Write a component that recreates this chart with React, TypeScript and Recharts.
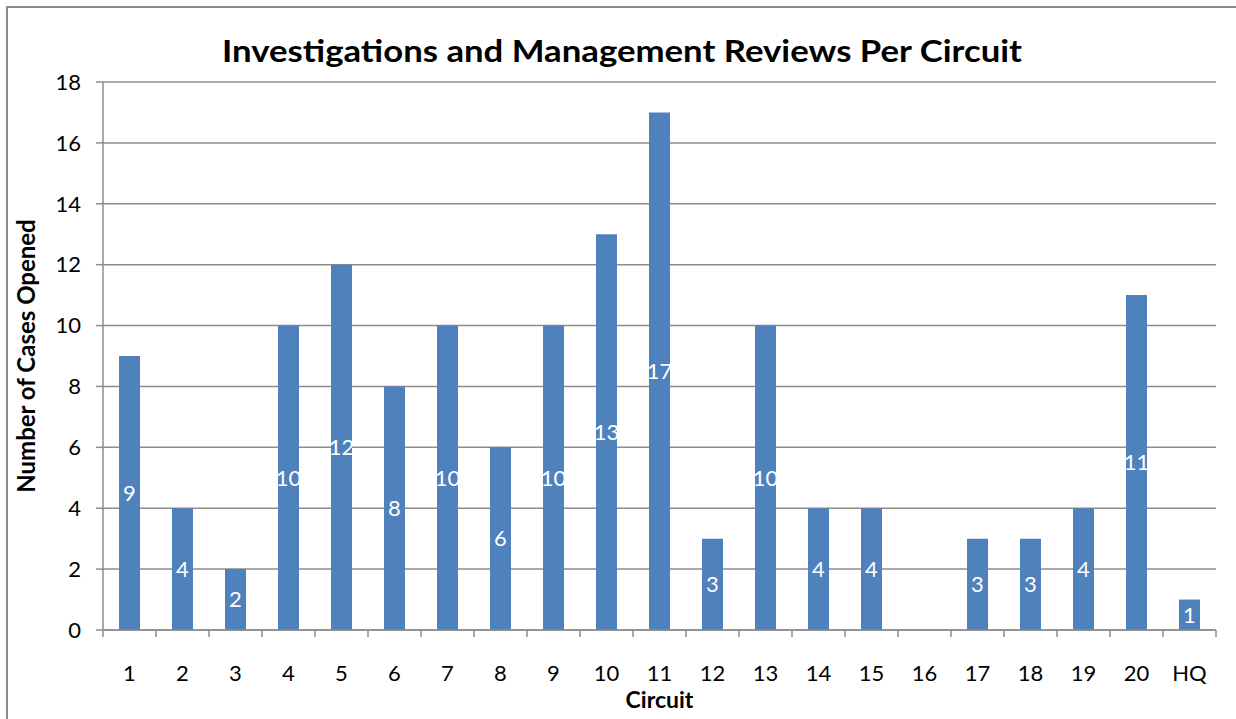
import React from "react";
import { BarChart, Bar, XAxis, YAxis, CartesianGrid, LabelList, Label } from "recharts";

const categories = ["1","2","3","4","5","6","7","8","9","10","11","12","13","14","15","16","17","18","19","20","HQ"];
const cases = [9,4,2,10,12,8,10,6,10,13,17,3,10,4,4,0,3,3,4,11,1];
const yTicks = [0,2,4,6,8,10,12,14,16,18];

const data = categories.map((c, i) => ({ circuit: c, cases: cases[i] }));

const FONT = "Lato, 'Open Sans', sans-serif";
const GRID = "#8c8c8c";

const XTick = (props: any) => {
  const { x, y, payload, index } = props;
  const half = 1113 / 21 / 2;
  const isLast = index === categories.length - 1;
  return (
    <g>
      <line x1={x - half} x2={x - half} y1={y} y2={y + 7} stroke={GRID} strokeWidth={1.5} />
      {isLast && <line x1={x + half} x2={x + half} y1={y} y2={y + 7} stroke={GRID} strokeWidth={1.5} />}
      <text x={x} y={y + 42} textAnchor="middle" dominantBaseline="central" fontFamily={FONT} fontSize={22} fill="#000">
        {payload.value}
      </text>
    </g>
  );
};

export default function App() {
  return (
    <div style={{ position: "absolute", left: 0, top: 0, width: 1236, height: 719, overflow: "hidden", background: "#fff" }}>
      <div style={{ position: "absolute", left: 6, top: 6, width: 1250, height: 740, border: "2px solid #8c8c8c", boxSizing: "border-box" }} />
      <svg width={1236} height={100} style={{ position: "absolute", left: 0, top: 0 }}>
        <text x={622} y={50} textAnchor="middle" dominantBaseline="central" fontFamily={FONT} fontWeight="bold" fontSize={31} fill="#000" textLength={800} lengthAdjust="spacingAndGlyphs">
          Investigations and Management Reviews Per Circuit
        </text>
      </svg>
      <div style={{ position: "absolute", left: 0, top: 0 }}>
        <BarChart width={1236} height={719} data={data} margin={{ top: 82, right: 20, bottom: 0, left: 0 }} barSize={21}>
          <CartesianGrid vertical={false} stroke={GRID} strokeWidth={1.5} />
          <XAxis
            dataKey="circuit"
            height={89}
            axisLine={{ stroke: GRID, strokeWidth: 1.5 }}
            tickLine={false}
            tickSize={0}
            tickMargin={0}
            tick={<XTick />}
            interval={0}
          >
            <Label value="Circuit" position="insideBottom" offset={11} style={{ fontFamily: FONT, fontWeight: "bold", fontSize: 23, fill: "#000" }} />
          </XAxis>
          <YAxis
            width={103}
            domain={[0, 18]}
            ticks={yTicks}
            interval={0}
            axisLine={{ stroke: GRID, strokeWidth: 1.5 }}
            tickLine={{ stroke: GRID, strokeWidth: 1.5 }}
            tickSize={7}
            tickMargin={15}
            tick={{ fontFamily: FONT, fontSize: 22, fill: "#000" }}
          >
            <Label value="Number of Cases Opened" angle={-90} position="insideLeft" offset={26} style={{ textAnchor: "middle", fontFamily: FONT, fontWeight: "bold", fontSize: 24, fill: "#000" }} />
          </YAxis>
          <Bar dataKey="cases" fill="#4F81BD" isAnimationActive={false}>
            <LabelList
              dataKey="cases"
              position="center"
              formatter={(v: any) => (v ? String(v) : "")}
              style={{ fontFamily: FONT, fontSize: 22, fill: "#fff" }}
            />
          </Bar>
        </BarChart>
      </div>
    </div>
  );
}
